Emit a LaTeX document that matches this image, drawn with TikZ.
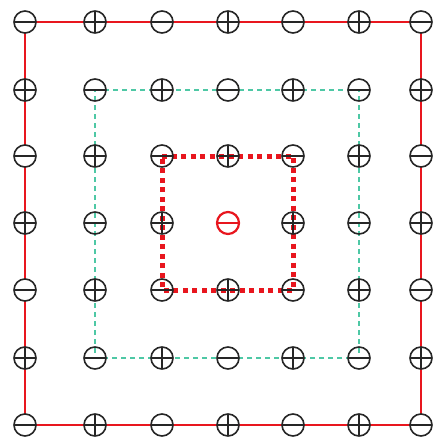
\documentclass[tikz,border=0pt]{standalone}
\pgfdeclarelayer{bg}
\pgfsetlayers{bg,main}
\definecolor{edgered}{RGB}{232,22,30}
\definecolor{lattice}{RGB}{78,200,165}
\begin{document}
\begin{tikzpicture}[x=1pt,y=-1pt,
  chg/.style={circle,draw=black!85,line width=1.6pt,minimum size=22pt,inner sep=0pt},
  negcharge/.style={chg,path picture={\draw[black!85,line width=1.4pt]
      (path picture bounding box.west) -- (path picture bounding box.east);}},
  poscharge/.style={chg,path picture={\draw[black!85,line width=1.4pt]
      (path picture bounding box.west) -- (path picture bounding box.east)
      (path picture bounding box.north) -- (path picture bounding box.south);}},
  centrecharge/.style={circle,draw=edgered,line width=2.2pt,minimum size=22pt,inner sep=0pt,
    path picture={\draw[edgered,line width=2.2pt]
      ([xshift=-1pt]path picture bounding box.west) -- ([xshift=1pt]path picture bounding box.east);}},
  outerline/.style={edgered,line width=2.8pt},
  midline/.style={lattice,line width=1.4pt,dash pattern=on 5pt off 4pt},
  innerline/.style={edgered,line width=5pt,dash pattern=on 5pt off 4.5pt}
]
\useasboundingbox (0,0) rectangle (438,439);

% 7x7 lattice of charges, alternating in sign; the outermost ring is
% filled white so that the boundary line stops at each circle
\foreach \px [count=\i from 0] in {25,95,162,228,293,359,421}
  \foreach \py [count=\j from 0] in {22,90,156,223,290,358,425} {
    \pgfmathtruncatemacro\s{mod(\i+\j,2)}
    \pgfmathtruncatemacro\ctr{and(\i==3,\j==3)}
    \pgfmathtruncatemacro\rim{or(or(\i==0,\i==6),or(\j==0,\j==6))}
    \ifnum\rim=1 \def\fillcol{white}\else \def\fillcol{none}\fi
    \ifnum\ctr=1
      \node[centrecharge] (n\i\j) at (\px,\py) {};
    \else
      \ifnum\s=0
        \node[negcharge,fill=\fillcol] (n\i\j) at (\px,\py) {};
      \else
        \node[poscharge,fill=\fillcol] (n\i\j) at (\px,\py) {};
      \fi
    \fi
  }

% the three square shells, behind the charges
\begin{pgfonlayer}{bg}
  \draw[outerline] (n00.center) -- (n60.center) -- (n66.center) -- (n06.center) -- cycle;
  \draw[midline] (n11.center) -- (n51.center) -- (n55.center) -- (n15.center) -- cycle;
  \draw[innerline] (n22.center) -- (n42.center) -- (n44.center) -- (n24.center) -- cycle;
\end{pgfonlayer}
\end{tikzpicture}
\end{document}
